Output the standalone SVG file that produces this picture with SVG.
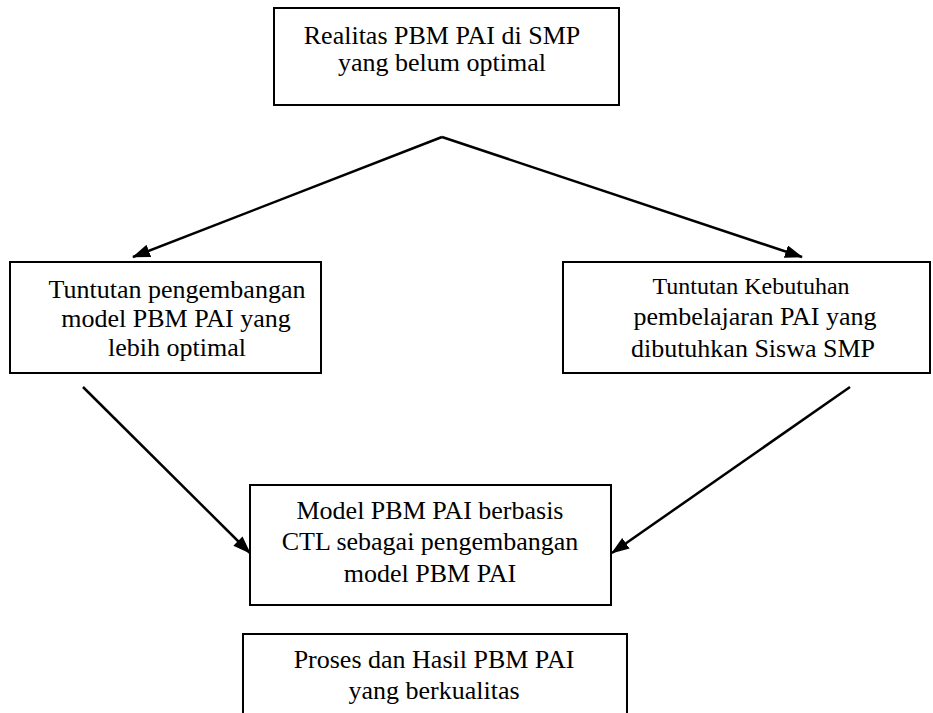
<svg xmlns="http://www.w3.org/2000/svg" width="933" height="713" viewBox="0 0 933 713">
<style>
.box{fill:#fff;stroke:#000;stroke-width:2}
.t{font-family:"Liberation Serif","Times New Roman",serif;font-size:26px;fill:#000;text-anchor:middle}
.s{font-size:24px}
.c{stroke:#000;stroke-width:2.5;fill:none}
</style>
<defs>
<marker id="ah" markerWidth="18" markerHeight="13" refX="17" refY="6.5" orient="auto" markerUnits="userSpaceOnUse">
<path d="M0,0 L18,6.5 L0,13 Z" fill="#000"/>
</marker>
</defs>
<rect width="933" height="713" fill="#fff"/>
<g id="connectors">
<line class="c" x1="442" y1="137" x2="133" y2="257" marker-end="url(#ah)"/>
<line class="c" x1="442" y1="137" x2="802" y2="257" marker-end="url(#ah)"/>
<line class="c" x1="83" y1="387" x2="250" y2="553" marker-end="url(#ah)"/>
<line class="c" x1="850" y1="387" x2="612" y2="553" marker-end="url(#ah)"/>
</g>
<g id="n1">
<rect class="box" x="274" y="8" width="345" height="97"/>
<text class="t" x="442" y="44">Realitas PBM PAI di SMP</text>
<text class="t" x="442" y="71">yang belum optimal</text>
</g>
<g id="n2">
<rect class="box" x="10" y="262" width="311" height="111"/>
<text class="t" x="177" y="298">Tuntutan pengembangan</text>
<text class="t" x="176" y="327">model PBM PAI yang</text>
<text class="t" x="177" y="356">lebih optimal</text>
</g>
<g id="n3">
<rect class="box" x="563" y="262" width="367" height="111"/>
<text class="t s" x="751" y="294">Tuntutan Kebutuhan</text>
<text class="t" x="755" y="325">pembelajaran PAI yang</text>
<text class="t" x="753" y="357">dibutuhkan Siswa SMP</text>
</g>
<g id="n4">
<rect class="box" x="250" y="485" width="361" height="120"/>
<text class="t" x="430" y="519">Model PBM PAI berbasis</text>
<text class="t" x="430" y="550">CTL sebagai pengembangan</text>
<text class="t" x="430" y="582">model PBM PAI</text>
</g>
<g id="n5">
<rect class="box" x="243" y="634" width="384" height="90"/>
<text class="t" x="434" y="668">Proses dan Hasil PBM PAI</text>
<text class="t" x="434" y="699">yang berkualitas</text>
</g>
</svg>
